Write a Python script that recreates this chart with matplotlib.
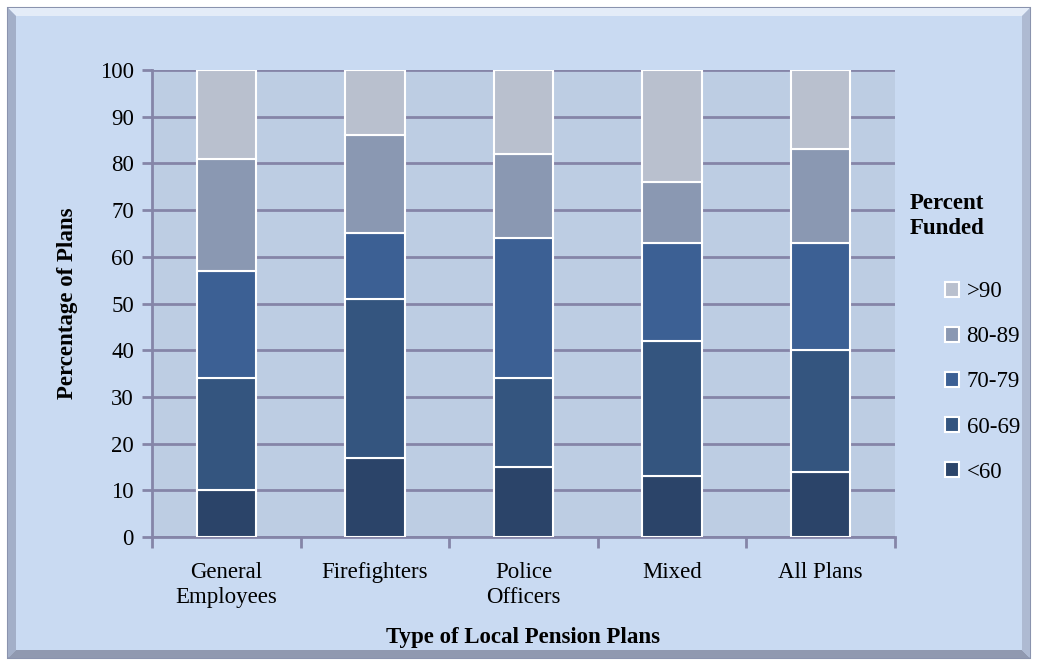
import numpy as np
import matplotlib.pyplot as plt
from matplotlib.patches import Rectangle, Polygon

plt.rcParams['font.family'] = ['Liberation Serif', 'DejaVu Serif']

categories = ['General\nEmployees', 'Firefighters', 'Police\nOfficers', 'Mixed', 'All Plans']
series_names = ['<60', '60-69', '70-79', '80-89', '>90']
under_60 = [10, 17, 15, 13, 14]
from_60_69 = [24, 34, 19, 29, 26]
from_70_79 = [23, 14, 30, 21, 23]
from_80_89 = [24, 21, 18, 13, 20]
over_90 = [19, 14, 18, 24, 17]
series = [under_60, from_60_69, from_70_79, from_80_89, over_90]
colors = ['#2B4469', '#34557F', '#3C6094', '#8A98B2', '#B9C0CE']

W, H = 1038, 665
fs = 16.5
fig = plt.figure(figsize=(W / 100, H / 100), dpi=100)
fig.patch.set_facecolor('white')

# outer bevelled frame (drawn below the axes)
x0, y0, x1, y1 = 8 / W, 1 - 658 / H, 1030 / W, 1 - 8 / H
fig.patches.append(Rectangle((x0, y0), x1 - x0, y1 - y0, transform=fig.transFigure,
                             facecolor='#C9DAF2', edgecolor='#8A93AE', lw=1.5, zorder=-10))
b = 8
bx, by = b / W, b / H
bevel = [
    ([(x0, y1), (x1, y1), (x1 - bx, y1 - by), (x0 + bx, y1 - by)], '#E4ECF8'),
    ([(x0, y0), (x0, y1), (x0 + bx, y1 - by), (x0 + bx, y0 + by)], '#A3AFC8'),
    ([(x0, y0), (x1, y0), (x1 - bx, y0 + by), (x0 + bx, y0 + by)], '#9099B0'),
    ([(x1, y0), (x1, y1), (x1 - bx, y1 - by), (x1 - bx, y0 + by)], '#AEBAD2'),
]
for pts, c in bevel:
    fig.patches.append(Polygon(pts, closed=True, transform=fig.transFigure,
                               facecolor=c, edgecolor='none', zorder=-9))

ax = fig.add_axes([152 / W, 1 - 537 / H, (895 - 152) / W, (537 - 70) / H])
ax.set_facecolor('#BDCDE3')

x = np.arange(len(categories))
bottom = np.zeros(len(categories))
for vals, name, c in zip(series, series_names, colors):
    ax.bar(x, vals, width=0.4, bottom=bottom, color=c, edgecolor='white', linewidth=1.5,
           label=name, zorder=3)
    bottom += np.array(vals)

ax.set_xlim(-0.5, len(categories) - 0.5)
ax.set_ylim(0, 100)
ax.set_yticks(np.arange(0, 101, 10))
ax.yaxis.grid(True, color='#8585A8', linewidth=2, zorder=0)
ax.set_axisbelow(True)
for s in ['top', 'right']:
    ax.spines[s].set_visible(False)
for s in ['left', 'bottom']:
    ax.spines[s].set_color('#8585A8')
    ax.spines[s].set_linewidth(2)

ax.set_xticks(x)
ax.set_xticklabels(categories, fontsize=fs, linespacing=1.25)
ax.set_xticks(np.arange(-0.5, len(categories)), minor=True)
ax.tick_params(axis='x', which='major', length=0, pad=18)
ax.tick_params(axis='x', which='minor', length=8, width=2, color='#8585A8')
ax.tick_params(axis='y', length=7, width=2, color='#8585A8', labelsize=fs, pad=6)

ax.set_ylabel('Percentage of Plans', fontsize=fs, fontweight='bold', labelpad=16)
ax.set_xlabel('Type of Local Pension Plans', fontsize=fs, fontweight='bold', labelpad=14)

handles, labels = ax.get_legend_handles_labels()
leg = ax.legend(handles[::-1], labels[::-1], loc='center left', bbox_to_anchor=(1.067, 0.332),
                frameon=False, fontsize=fs, handlelength=0.6, handleheight=0.6,
                labelspacing=1.05, handletextpad=0.35, borderpad=0, borderaxespad=0)
fig.text(910 / W, 1 - 216 / H, 'Percent\nFunded', fontsize=fs, fontweight='bold',
         va='center', ha='left', linespacing=1.3)

fig.savefig('out.png', dpi=100)
